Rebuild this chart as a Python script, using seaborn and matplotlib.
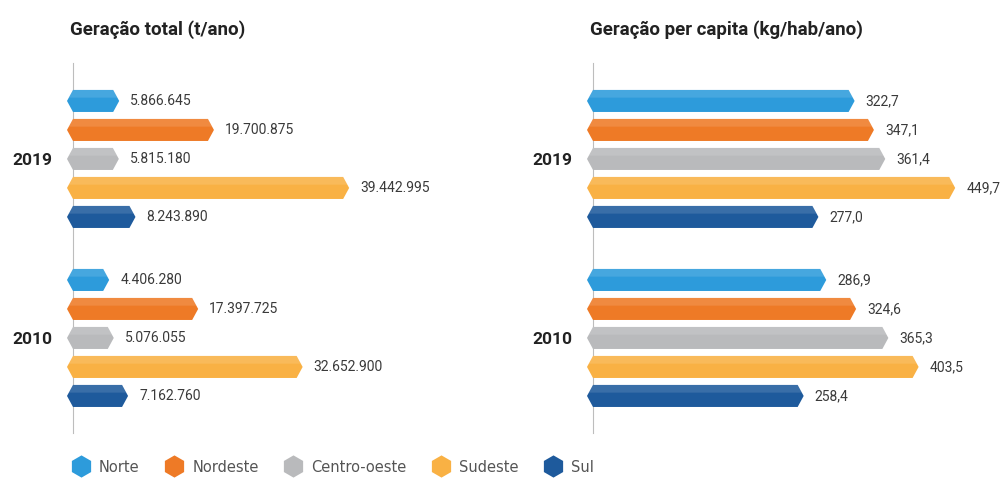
import pandas as pd
import matplotlib.pyplot as plt
import seaborn as sns
from matplotlib.patches import Polygon
from matplotlib.lines import Line2D

# dados (regiões do Brasil)
regioes = ['Norte', 'Nordeste', 'Centro-oeste', 'Sudeste', 'Sul']
anos = ['2019', '2010']
cores = ['#2D9BDB', '#EE7A26', '#B9BABC', '#F9B144', '#1E5A9C']

total_2019 = [5866645, 19700875, 5815180, 39442995, 8243890]
total_2010 = [4406280, 17397725, 5076055, 32652900, 7162760]
capita_2019 = [322.7, 347.1, 361.4, 449.7, 277.0]
capita_2010 = [286.9, 324.6, 365.3, 403.5, 258.4]

titulos = ['Geração total (t/ano)', 'Geração per capita (kg/hab/ano)']


def monta_df(v2019, v2010):
    return pd.DataFrame({
        'ano': ['2019'] * 5 + ['2010'] * 5,
        'regiao': regioes * 2,
        'valor': v2019 + v2010,
    })


def fmt_total(v):
    return f'{v:,.0f}'.replace(',', '.')


def fmt_capita(v):
    return f'{v:.1f}'.replace('.', ',')


plt.rcParams['font.family'] = ['Roboto', 'DejaVu Sans']

fig = plt.figure(figsize=(10.05, 4.82), dpi=100)
W, H = 1005, 482

# posições dos painéis em pixels
paineis = [
    (73, 400, 58.4e6, monta_df(total_2019, total_2010), fmt_total),
    (593, 400, 505, monta_df(capita_2019, capita_2010), fmt_capita),
]

for i, (x0, largura, xmax, df, fmt) in enumerate(paineis):
    ax = fig.add_axes([x0 / W, (H - 433) / H, largura / W, 370 / H])
    sns.barplot(data=df, x='valor', y='ano', hue='regiao', order=anos,
                hue_order=regioes, palette=cores, orient='h', saturation=1,
                width=0.81, gap=0.24, legend=False, ax=ax)
    ax.set_xlim(0, xmax)
    ax.set_ylim(1.531, -0.536)

    # barras com pontas hexagonais
    tip = 6 * xmax / ax.bbox.width
    for cont in ax.containers:
        for bar in cont:
            x, y = bar.get_x(), bar.get_y()
            w, h = bar.get_width(), bar.get_height()
            cor = bar.get_facecolor()
            bar.set_visible(False)
            pts = [(x - tip, y + h / 2), (x, y), (x + w, y),
                   (x + w + tip, y + h / 2), (x + w, y + h), (x, y + h)]
            ax.add_patch(Polygon(pts, closed=True, facecolor=cor,
                                 edgecolor='none', clip_on=False, zorder=3))
            brilho = [(x - 0.7 * tip, y + 0.35 * h), (x, y), (x + w, y),
                      (x + w + 0.7 * tip, y + 0.35 * h)]
            ax.add_patch(Polygon(brilho, closed=True, facecolor='white',
                                 alpha=0.12, edgecolor='none',
                                 clip_on=False, zorder=4))
            ax.annotate(fmt(w), xy=(x + w + tip, y + h / 2), xytext=(11, 0),
                        textcoords='offset pixels', va='center', ha='left',
                        fontsize=10, color='#3a3a3a', annotation_clip=False)

    for s in ['top', 'right', 'bottom']:
        ax.spines[s].set_visible(False)
    ax.spines['left'].set_color('#bdbdbd')
    ax.spines['left'].set_linewidth(0.8)
    ax.set_xticks([])
    ax.set_xlabel('')
    ax.set_ylabel('')
    ax.tick_params(axis='y', length=0, pad=15)
    for lbl in ax.get_yticklabels():
        lbl.set_fontweight('bold')
        lbl.set_fontsize(12.5)
        lbl.set_color('#222222')

    fig.text((x0 - 3) / W, 1 - 30 / H, titulos[i], fontsize=13.5,
             fontweight='bold', color='#222222', ha='left', va='center')

# legenda
handles = [Line2D([], [], marker='h', ls='', markersize=16,
                  markerfacecolor=c, markeredgecolor='none', label=r)
           for r, c in zip(regioes, cores)]
fig.legend(handles=handles, loc='center left',
           bbox_to_anchor=(59 / W, 1 - 467 / H), ncol=5, frameon=False,
           handletextpad=0.65, columnspacing=1.75, handlelength=1.2,
           prop={'family': 'DejaVu Sans', 'size': 10.5},
           labelcolor='#555555')

plt.savefig('out.png', dpi=100)
